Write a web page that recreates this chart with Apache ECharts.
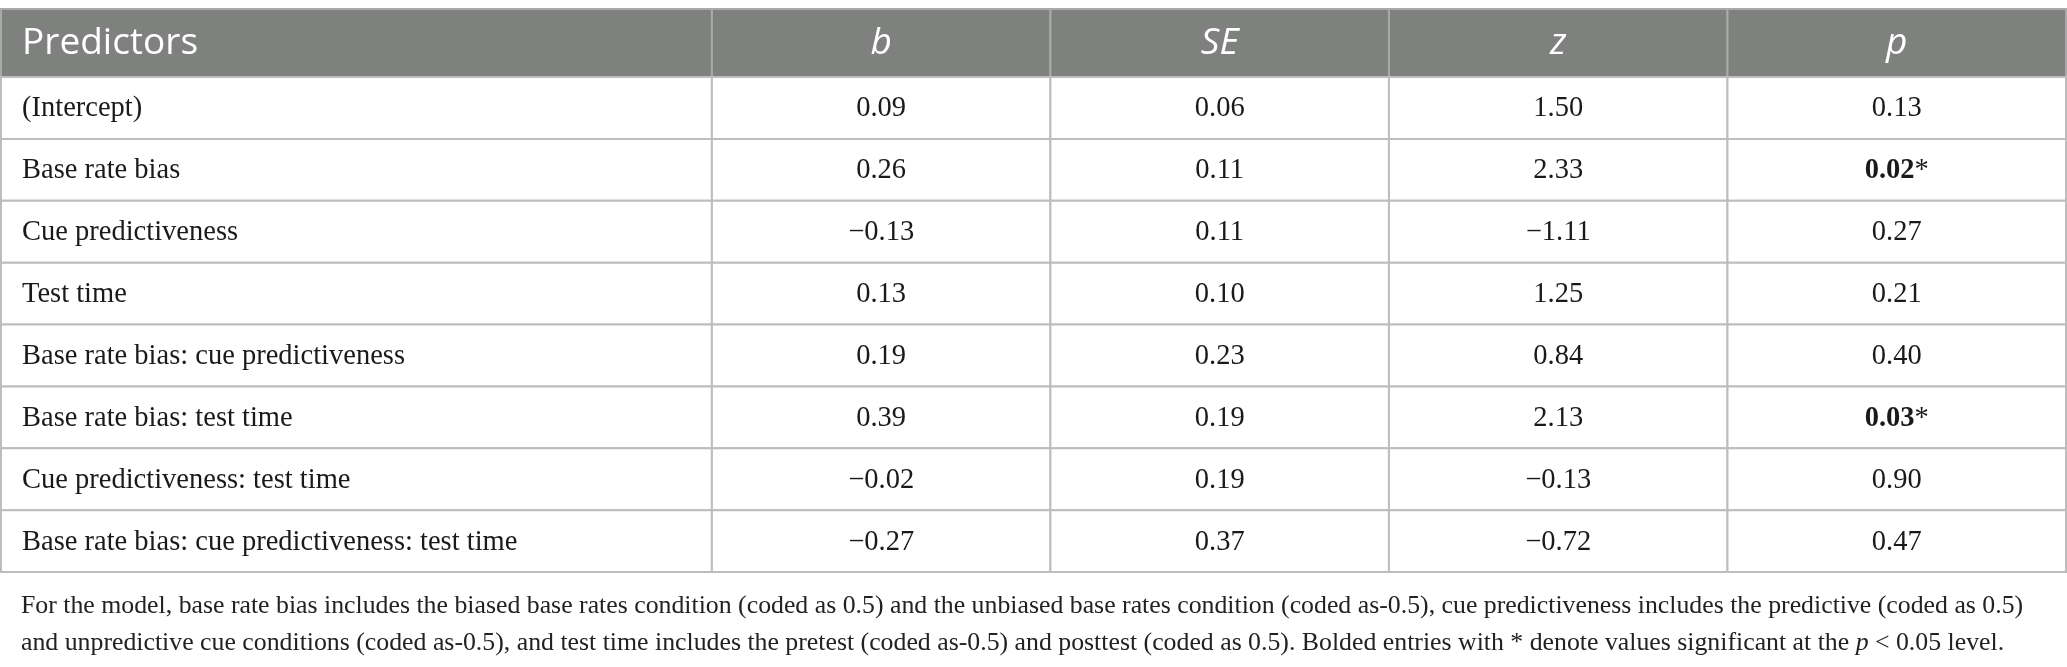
<!DOCTYPE html>
<html>
<head>
<meta charset="utf-8">
<script src="https://cdn.jsdelivr.net/npm/echarts@6/dist/echarts.min.js"></script>
<style>
  html, body { margin: 0; padding: 0; background: #fff; }
  #chart { width: 2067px; height: 667px; }
</style>
</head>
<body>
<div id="chart"></div>
<script>
// table content
const headers = ['Predictors', 'b', 'SE', 'z', 'p'];
const predictors = [
    '(Intercept)',
    'Base rate bias',
    'Cue predictiveness',
    'Test time',
    'Base rate bias: cue predictiveness',
    'Base rate bias: test time',
    'Cue predictiveness: test time',
    'Base rate bias: cue predictiveness: test time'
];
const bVals  = [0.09, 0.26, -0.13, 0.13, 0.19, 0.39, -0.02, -0.27];
const seVals = [0.06, 0.11, 0.11, 0.10, 0.23, 0.19, 0.19, 0.37];
const zVals  = [1.50, 2.33, -1.11, 1.25, 0.84, 2.13, -0.13, -0.72];
const pVals  = [0.13, 0.02, 0.27, 0.21, 0.40, 0.03, 0.90, 0.47];
const alpha = 0.05;

// layout in "column units" / "row units"
const colSpans = [2.1, 1, 1, 1, 1];
const headerSpan = 1.1;

const colEdges = [0];
colSpans.forEach(function (s, i) { colEdges.push(colEdges[i] + s); });
const totalCols = colEdges[colEdges.length - 1];
const totalRows = headerSpan + predictors.length;

function fmt(v) {
    return v.toFixed(2).replace('-', '\u2212');
}

const columns = [bVals, seVals, zVals, pVals];

// cells: [col, row, text, kind]
let cells = [];
headers.forEach(function (h, c) {
    cells.push([c, 0, h, 'head']);
});
predictors.forEach(function (name, r) {
    cells.push([0, r + 1, name, 'body']);
    columns.forEach(function (vals, j) {
        let txt = fmt(vals[r]);
        let kind = 'body';
        if (j === 3 && vals[r] < alpha) {
            txt = '{bold|' + txt + '}*';
            kind = 'sig';
        }
        cells.push([j + 1, r + 1, txt, kind]);
    });
});

function rowTop(r) {
    return r === 0 ? 0 : headerSpan + (r - 1);
}
function rowBottom(r) {
    return r === 0 ? headerSpan : headerSpan + r;
}

const bodySize = 28.5;

function renderCell(params, api) {
    const c = api.value(0);
    const r = api.value(1);
    const item = cells[params.dataIndex];
    const p0 = api.coord([colEdges[c], rowTop(r)]);
    const p1 = api.coord([colEdges[c + 1], rowBottom(r)]);
    const x = p0[0], y = p0[1];
    const w = p1[0] - p0[0], h = p1[1] - p0[1];
    const isHead = item[3] === 'head';

    const rect = {
        type: 'rect',
        shape: { x: x, y: y, width: w, height: h },
        style: {
            fill: isHead ? '#7f817f' : '#fff',
            stroke: isHead ? '#a9aaa9' : '#bdbdbd',
            lineWidth: 2
        }
    };
    const left = c === 0;
    const text = {
        type: 'text',
        z2: 10,
        style: {
            text: item[2],
            x: left ? x + 21 : x + w / 2,
            y: y + h / 2 + (isHead ? 0 : 1),
            align: left ? 'left' : 'center',
            verticalAlign: 'middle',
            fill: isHead ? '#fff' : '#1a1a1a',
            fontFamily: isHead ? 'Open Sans' : 'Liberation Serif',
            fontSize: isHead ? 37 : bodySize,
            fontStyle: isHead && c > 0 ? 'italic' : 'normal',
            rich: {
                bold: {
                    fontFamily: 'Liberation Serif',
                    fontSize: bodySize,
                    fontWeight: 'bold',
                    fill: '#1a1a1a'
                }
            }
        }
    };
    return { type: 'group', children: [rect, text] };
}

const note1 = 'For the model, base rate bias includes the biased base rates condition (coded as 0.5) and the unbiased base rates condition (coded as-0.5), cue predictiveness includes the predictive (coded as 0.5)';
const note2 = 'and unpredictive cue conditions (coded as-0.5), and test time includes the pretest (coded as-0.5) and posttest (coded as 0.5). Bolded entries with * denote values significant at the {i|p} < 0.05 level.';

const noteSize = 25.8;

const chart = echarts.init(document.getElementById('chart'));
chart.setOption({
    backgroundColor: '#fff',
    animation: false,
    title: {
        text: note1 + '\n' + note2,
        left: 21,
        top: 588,
        padding: 0,
        textStyle: {
            fontFamily: 'Liberation Serif',
            fontSize: noteSize,
            fontWeight: 'normal',
            color: '#222',
            lineHeight: 37,
            rich: {
                i: {
                    fontFamily: 'Liberation Serif',
                    fontSize: noteSize,
                    fontStyle: 'italic',
                    color: '#222',
                    lineHeight: 37
                }
            }
        }
    },
    grid: { left: 1, right: 1, top: 9, bottom: 95 },
    xAxis: {
        type: 'value', min: 0, max: totalCols, show: false
    },
    yAxis: {
        type: 'value', min: 0, max: totalRows, inverse: true, show: false
    },
    series: [{
        type: 'custom',
        renderItem: renderCell,
        data: cells.map(function (d) { return [d[0], d[1]]; }),
        clip: false,
        silent: true
    }]
});
</script>
</body>
</html>
